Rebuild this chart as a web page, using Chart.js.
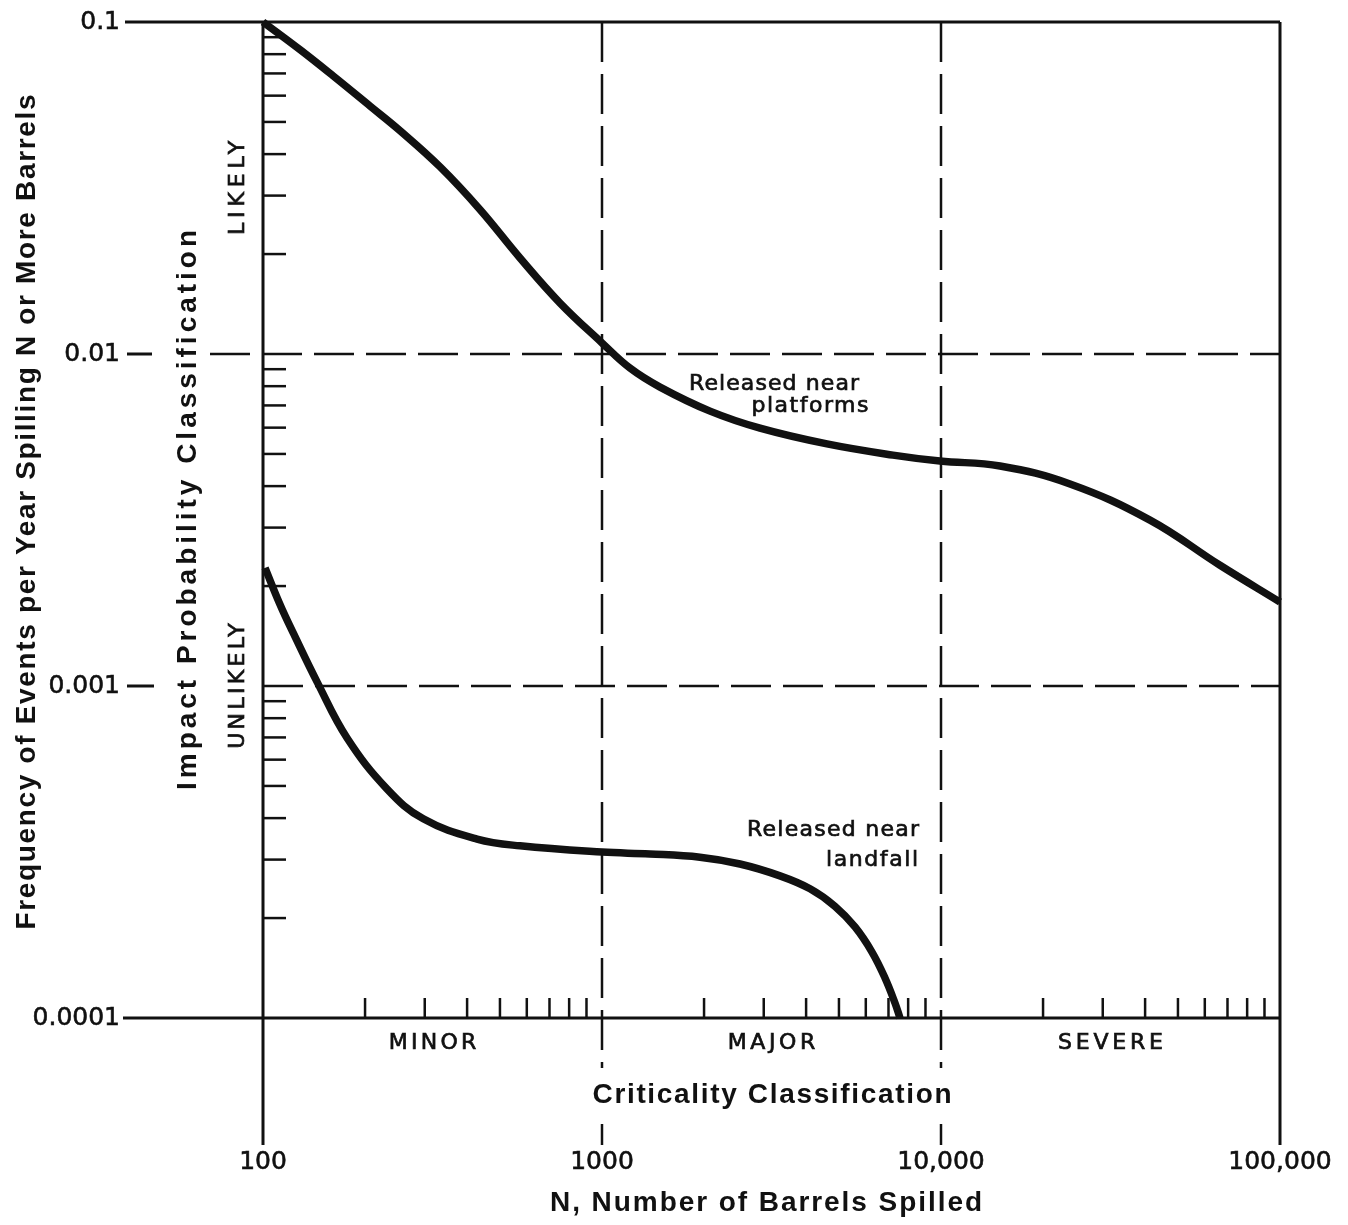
<!DOCTYPE html>
<html>
<head>
<meta charset="utf-8">
<title>Spill frequency vs. barrels spilled</title>
<script src="https://cdn.jsdelivr.net/npm/chart.js@4.4.1/dist/chart.umd.min.js"></script>
<style>
  html, body { margin: 0; padding: 0; background: #fff; }
  canvas { display: block; }
</style>
</head>
<body>
<canvas id="chart" width="1348" height="1225"></canvas>
<script>
// Values (log-log axes)
const platformBarrels = [100, 129, 161, 207, 254, 333, 437, 573, 752, 1000, 1209, 1483, 2083, 2925, 4610, 7218, 9930, 14930, 24020, 41350, 66530, 100000];
const platformFreq = [0.1, 0.0823, 0.0688, 0.0558, 0.047, 0.0366, 0.0272, 0.01946, 0.01424, 0.0108, 0.00907, 0.00795, 0.00673, 0.00598, 0.00536, 0.00496, 0.00476, 0.0046, 0.00406, 0.00316, 0.00231, 0.00179];

const landfallBarrels = [101.4, 112, 123, 145, 177, 232, 297, 428, 573, 1000, 1385, 1945, 2553, 3350, 4108, 4867, 5576, 6258, 6836, 7316, 7568];
const landfallFreq = [0.00227, 0.00177, 0.00144, 0.00102, 0.000697, 0.00049, 0.000398, 0.000346, 0.00033, 0.000316, 0.000312, 0.000305, 0.000291, 0.000268, 0.000245, 0.000217, 0.000188, 0.000158, 0.000132, 0.000111, 0.0001];

// Axes
const xTicks = [100, 1000, 10000, 100000];
const xTickLabels = ['100', '1000', '10,000', '100,000'];
const yTicks = [0.1, 0.01, 0.001, 0.0001];
const yTickLabels = ['0.1', '0.01', '0.001', '0.0001'];

// Classification bands
const criticalityLabels = ['MINOR', 'MAJOR', 'SEVERE'];
const criticalityBands = [[100, 1000], [1000, 10000], [10000, 100000]];
const probabilityLabels = ['LIKELY', 'UNLIKELY'];
const probabilityBands = [[0.01, 0.1], [0.0001, 0.01]];

const INK = '#111';
const DASH = [40, 12];

function line(ctx, x1, y1, x2, y2, width, dash) {
  ctx.save();
  ctx.strokeStyle = INK;
  ctx.lineWidth = width;
  ctx.setLineDash(dash || []);
  ctx.beginPath();
  ctx.moveTo(x1, y1);
  ctx.lineTo(x2, y2);
  ctx.stroke();
  ctx.restore();
}

// draws text centred on (x, y), spread to a given width
function fitText(ctx, text, x, y, font, width, rotate, heavy) {
  ctx.save();
  ctx.translate(x, y);
  if (rotate) ctx.rotate(-Math.PI / 2);
  ctx.font = font;
  ctx.fillStyle = INK;
  ctx.strokeStyle = INK;
  ctx.letterSpacing = '0px';
  const w = ctx.measureText(text).width;
  ctx.letterSpacing = ((width - w) / (text.length - 1)) + 'px';
  ctx.textAlign = 'left';
  ctx.textBaseline = 'middle';
  ctx.fillText(text, -width / 2, 0);
  if (heavy) {
    ctx.lineWidth = heavy;
    ctx.strokeText(text, -width / 2, 0);
  }
  ctx.restore();
}

function geoMid(a, b) {
  return Math.sqrt(a * b);
}

const framePlugin = {
  id: 'frame',
  beforeDatasetsDraw(chart) {
    const ctx = chart.ctx;
    const xs = chart.scales.x;
    const ys = chart.scales.y;
    const area = chart.chartArea;
    const lower = area.bottom + 127;

    // horizontal lines
    line(ctx, 125, ys.getPixelForValue(0.1), area.right, ys.getPixelForValue(0.1), 3);
    line(ctx, 123, ys.getPixelForValue(0.0001), area.right, ys.getPixelForValue(0.0001), 3);
    const y01 = ys.getPixelForValue(0.01);
    const y001 = ys.getPixelForValue(0.001);
    line(ctx, 127, y01, 152, y01, 3);
    line(ctx, 127, y001, 154, y001, 3);
    line(ctx, 210, y01, area.right, y01, 2.5, DASH);
    line(ctx, area.left, y001, area.right, y001, 2.5, DASH);

    // vertical lines
    line(ctx, xs.getPixelForValue(100), area.top, xs.getPixelForValue(100), lower, 3);
    line(ctx, xs.getPixelForValue(100000), area.top, xs.getPixelForValue(100000), lower, 3);
    [1000, 10000].forEach(v => {
      const px = xs.getPixelForValue(v);
      line(ctx, px, area.top, px, area.bottom + 50, 2.5, DASH);
      line(ctx, px, area.bottom + 106, px, lower, 2.5);
    });

    // minor ticks
    [100, 1000, 10000].forEach(d => {
      for (let m = 2; m <= 9; m++) {
        const px = xs.getPixelForValue(m * d);
        line(ctx, px, area.bottom, px, area.bottom - 20, 2.5);
      }
    });
    [0.0001, 0.001, 0.01].forEach(d => {
      for (let m = 2; m <= 9; m++) {
        const py = ys.getPixelForValue(m * d);
        line(ctx, area.left, py, area.left + 23, py, 2.5);
      }
    });
  },
  afterDraw(chart) {
    const ctx = chart.ctx;
    const xs = chart.scales.x;
    const ys = chart.scales.y;
    const area = chart.chartArea;

    ctx.save();
    ctx.fillStyle = INK;
    ctx.strokeStyle = INK;
    ctx.lineWidth = 0.6;
    ctx.font = '25px "DejaVu Sans"';
    ctx.textBaseline = 'middle';
    ctx.textAlign = 'right';
    yTicks.forEach((v, i) => {
      ctx.fillText(yTickLabels[i], 120, ys.getPixelForValue(v));
      ctx.strokeText(yTickLabels[i], 120, ys.getPixelForValue(v));
    });
    ctx.textAlign = 'center';
    xTicks.forEach((v, i) => {
      ctx.fillText(xTickLabels[i], xs.getPixelForValue(v), area.bottom + 144);
      ctx.strokeText(xTickLabels[i], xs.getPixelForValue(v), area.bottom + 144);
    });
    ctx.restore();

    criticalityLabels.forEach((t, i) => {
      const b = criticalityBands[i];
      fitText(ctx, t, xs.getPixelForValue(geoMid(b[0], b[1])), area.bottom + 25, '22px "DejaVu Sans"', t.length * 17.5, false, 0.7);
    });
    probabilityLabels.forEach((t, i) => {
      const b = probabilityBands[i];
      fitText(ctx, t, 238, ys.getPixelForValue(geoMid(b[0], b[1])), '22px "DejaVu Sans"', t.length * 15.7, true, 0.7);
    });

    const bold = 'bold 28px "Liberation Sans"';
    fitText(ctx, 'Criticality Classification', 772, area.bottom + 77, bold, 359);
    fitText(ctx, 'N, Number of Barrels Spilled', 766, area.bottom + 185, bold, 432);
    fitText(ctx, 'Frequency of Events per Year Spilling N or More Barrels', 27, 512, bold, 835, true);
    fitText(ctx, 'Impact Probability Classification', 188, 510, bold, 560, true);

    const small = '22px "DejaVu Sans"';
    fitText(ctx, 'Released near', 774, 384, small, 170, false, 0.7);
    fitText(ctx, 'platforms', 810, 406, small, 117, false, 0.7);
    fitText(ctx, 'Released near', 833, 830, small, 172, false, 0.7);
    fitText(ctx, 'landfall', 872, 860, small, 92, false, 0.7);
  }
};

new Chart(document.getElementById('chart'), {
  type: 'line',
  data: {
    datasets: [
      {
        label: 'Released near platforms',
        data: platformBarrels.map((n, i) => ({ x: n, y: platformFreq[i] })),
        borderColor: INK,
        borderWidth: 7.5,
        pointRadius: 0,
        tension: 0.4,
        clip: false
      },
      {
        label: 'Released near landfall',
        data: landfallBarrels.map((n, i) => ({ x: n, y: landfallFreq[i] })),
        borderColor: INK,
        borderWidth: 7.5,
        pointRadius: 0,
        tension: 0.4,
        clip: false
      }
    ]
  },
  options: {
    responsive: false,
    animation: false,
    layout: { padding: { left: 263, top: 22, right: 68, bottom: 207 } },
    scales: {
      x: { type: 'logarithmic', min: 100, max: 100000, display: false },
      y: { type: 'logarithmic', min: 0.0001, max: 0.1, display: false }
    },
    plugins: {
      legend: { display: false },
      tooltip: { enabled: false }
    }
  },
  plugins: [framePlugin]
});
</script>
</body>
</html>
